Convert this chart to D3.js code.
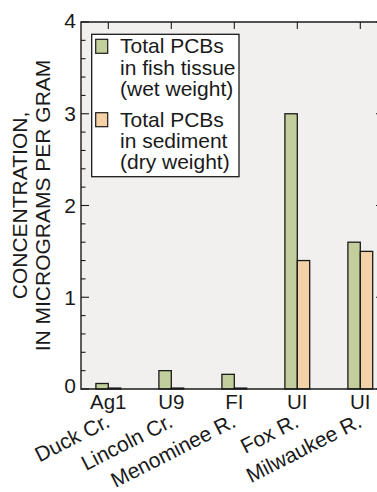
<!DOCTYPE html>
<html>
<head>
<meta charset="utf-8">
<script src="https://cdn.jsdelivr.net/npm/d3@7"></script>
<style>
  html, body { margin: 0; padding: 0; background: #ffffff; }
  svg { display: block; font-family: "Liberation Sans", Arial, Helvetica, sans-serif; }
</style>
</head>
<body>
<svg id="chart" width="377" height="492"></svg>
<script>
// Sampling sites: site code and the stream it sits on
const siteCodes = ["Ag1", "U9", "FI", "UI", "UI"];
const streams = ["Duck Cr.", "Lincoln Cr.", "Menominee R.", "Fox R.", "Milwaukee R."];
// Total PCBs, micrograms per gram
const fishTissue = [0.06, 0.2, 0.16, 3.0, 1.6];   // wet weight
const sediment = [0.01, 0.01, 0.01, 1.4, 1.5];    // dry weight
const yTicks = [0, 1, 2, 3, 4];
const legendLabels = [
  ["Total PCBs", "in fish tissue", "(wet weight)"],
  ["Total PCBs", "in sediment", "(dry weight)"]
];

const colors = { fish: "#c2cf9c", sed: "#f4d1a6", bg: "#f1f0ee", ink: "#1a1a1a" };

const svg = d3.select("#chart");
const plot = { left: 81, right: 380, top: 22, bottom: 389 };

const idx = d3.range(siteCodes.length);
const x = d3.scalePoint().domain(idx).range([108.3, 360.3]);
const y = d3.scaleLinear().domain([0, 4]).range([plot.bottom, plot.top]);
const barW = 12.4;

// plot background
svg.append("rect")
  .attr("x", plot.left).attr("y", plot.top)
  .attr("width", plot.right - plot.left).attr("height", plot.bottom - plot.top)
  .attr("fill", colors.bg);

// bars
const g = svg.append("g");
idx.forEach(i => {
  g.append("rect")
    .attr("x", x(i) - barW).attr("y", y(fishTissue[i]))
    .attr("width", barW).attr("height", y(0) - y(fishTissue[i]))
    .attr("fill", colors.fish).attr("stroke", colors.ink).attr("stroke-width", 1.3);
  g.append("rect")
    .attr("x", x(i)).attr("y", y(sediment[i]))
    .attr("width", barW).attr("height", y(0) - y(sediment[i]))
    .attr("fill", colors.sed).attr("stroke", colors.ink).attr("stroke-width", 1.3);
});

// left axis: major ticks at integers, minor every 0.2, all pointing inward
const minor = d3.range(0, 4.001, 0.2);
svg.append("g").selectAll("line").data(minor).join("line")
  .attr("x1", plot.left).attr("x2", d => plot.left + (Math.abs(d - Math.round(d)) < 1e-6 ? 8 : 4.5))
  .attr("y1", d => y(d)).attr("y2", d => y(d))
  .attr("stroke", colors.ink).attr("stroke-width", 1.1);

// right axis major ticks pointing inward
svg.append("g").selectAll("line").data(yTicks).join("line")
  .attr("x1", plot.right).attr("x2", plot.right - 4)
  .attr("y1", d => y(d)).attr("y2", d => y(d))
  .attr("stroke", colors.ink).attr("stroke-width", 1.1);

// top ticks at the site positions
svg.append("g").selectAll("line").data(idx).join("line")
  .attr("x1", d => x(d)).attr("x2", d => x(d))
  .attr("y1", plot.top).attr("y2", plot.top + 7)
  .attr("stroke", colors.ink).attr("stroke-width", 1.1);

// frame
svg.append("path")
  .attr("d", `M${plot.right},${plot.top}H${plot.left}V${plot.bottom}H${plot.right}`)
  .attr("fill", "none").attr("stroke", colors.ink).attr("stroke-width", 1.4);

// y tick labels (end labels nudged up slightly)
svg.append("g").selectAll("text").data(yTicks).join("text")
  .attr("x", plot.left - 5).attr("y", d => y(d) - (d === 0 ? 4 : d === 4 ? 2 : 0))
  .attr("dy", "0.36em").attr("text-anchor", "end")
  .attr("font-size", 21).attr("fill", colors.ink)
  .text(d => d);

// y axis title
const titleG = svg.append("g")
  .attr("transform", `translate(0,${(plot.top + plot.bottom) / 2}) rotate(-90)`);
titleG.append("text").attr("x", 0).attr("y", 27)
  .attr("text-anchor", "middle").attr("font-size", 21).attr("fill", colors.ink)
  .text("CONCENTRATION,");
titleG.append("text").attr("x", 0).attr("y", 50)
  .attr("text-anchor", "middle").attr("font-size", 21).attr("fill", colors.ink)
  .text("IN MICROGRAMS PER GRAM");

// site code labels
svg.append("g").selectAll("text").data(idx).join("text")
  .attr("x", d => x(d)).attr("y", 409)
  .attr("text-anchor", "middle").attr("font-size", 20.5).attr("fill", colors.ink)
  .text(d => siteCodes[d]);

// stream names, slanted
svg.append("g").selectAll("text").data(idx).join("text")
  .attr("transform", d => `translate(${x(d) + 3},${426}) rotate(-27)`)
  .attr("text-anchor", "end").attr("font-size", 21).attr("fill", colors.ink)
  .text(d => streams[d]);

// legend
const lg = svg.append("g");
lg.append("rect")
  .attr("x", 91.7).attr("y", 34.3).attr("width", 147.3).attr("height", 142.4)
  .attr("fill", "#ffffff").attr("stroke", colors.ink).attr("stroke-width", 1.3);
const legendFill = [colors.fish, colors.sed];
const groupTop = [53.3, 126.7];
legendLabels.forEach((lines, k) => {
  lg.append("rect")
    .attr("x", 95.7).attr("y", groupTop[k] - 14).attr("width", 12).attr("height", 14)
    .attr("fill", legendFill[k]).attr("stroke", colors.ink).attr("stroke-width", 1.2);
  lines.forEach((t, j) => {
    lg.append("text")
      .attr("x", 120).attr("y", groupTop[k] + j * 21.3)
      .attr("font-size", 21).attr("fill", colors.ink)
      .text(t);
  });
});
</script>
</body>
</html>
